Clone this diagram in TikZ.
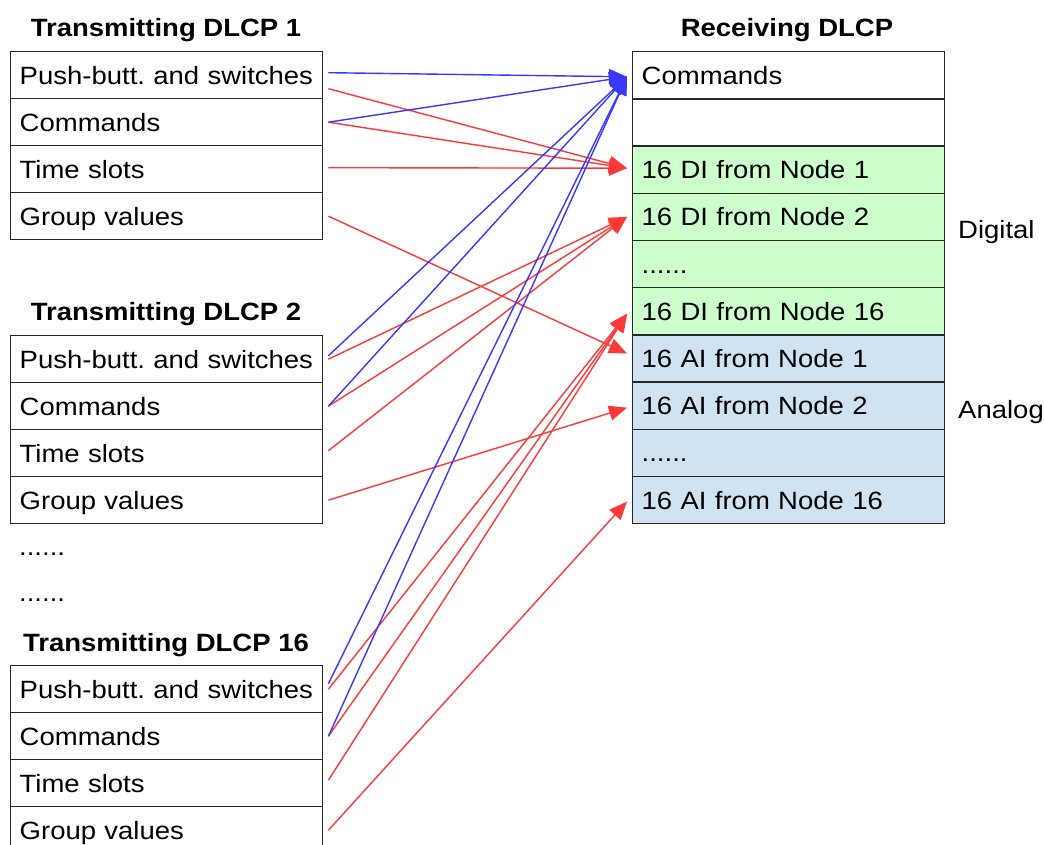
\documentclass[tikz,border=0pt]{standalone}
\usepackage{fontspec}
\setmainfont[FakeStretch=1.1]{Liberation Sans}
\usetikzlibrary{arrows.meta}
\frenchspacing
\definecolor{cellgreen}{RGB}{204,255,204}
\definecolor{cellblue}{RGB}{207,227,242}
\definecolor{arrred}{RGB}{255,56,56}
\definecolor{arrblue}{RGB}{56,56,255}
\definecolor{border}{RGB}{40,40,40}
\begin{document}
\begin{tikzpicture}[x=1pt,y=-1pt,
  txt/.style={font=\fontsize{25}{30}\selectfont\frenchspacing},
  cell/.style={txt,draw=border,line width=1.4pt,fill=white,anchor=north west,
    minimum height=47pt,inner xsep=9pt,inner ysep=0pt,text width=294pt,align=left,
    text height=18pt,text depth=0pt},
  rcell/.style={cell,minimum height=47.2pt},
  gcell/.style={rcell,fill=cellgreen},
  bcell/.style={rcell,fill=cellblue},
  title/.style={txt,font=\fontsize{25}{30}\selectfont\bfseries,inner sep=0pt,text height=18pt,text depth=0pt},
  lbl/.style={txt,inner sep=0pt,text height=18pt,text depth=0pt,anchor=west},
  dots/.style={txt,inner sep=0pt,anchor=base west},
  bluearr/.style={draw=arrblue,line width=1.4pt,-{Triangle[length=18pt,width=15pt]},fill=arrblue},
  redarr/.style={draw=arrred,line width=1.4pt,-{Triangle[length=18pt,width=15pt]},fill=arrred}
]
\useasboundingbox (0,0) rectangle (1045,845);

% titles
\node[title] (t1) at (166,28) {Transmitting DLCP 1};
\node[title] (t2) at (166,311) {Transmitting DLCP 2};
\node[title] (t3) at (166,642) {Transmitting DLCP 16};
\node[title] (tr) at (787,28) {Receiving DLCP};

% transmitting DLCP 1
\node[cell] (a1p) at (10,51) {\mbox{Push-butt. and switches}};
\node[cell] (a1c) at (10,98) {Commands};
\node[cell] (a1t) at (10,145) {Time slots};
\node[cell] (a1g) at (10,192) {Group values};

% transmitting DLCP 2
\node[cell] (a2p) at (10,335) {\mbox{Push-butt. and switches}};
\node[cell] (a2c) at (10,382) {Commands};
\node[cell] (a2t) at (10,429) {Time slots};
\node[cell] (a2g) at (10,476) {Group values};

\node[dots] (ld1) at (19,555) {......};
\node[dots] (ld2) at (19,601) {......};

% transmitting DLCP 16
\node[cell] (a3p) at (10,665) {\mbox{Push-butt. and switches}};
\node[cell] (a3c) at (10,712) {Commands};
\node[cell] (a3t) at (10,759) {Time slots};
\node[cell] (a3g) at (10,806) {Group values};

% receiving DLCP
\node[rcell] (rc) at (632,51) {Commands};
\node[rcell] (rb) at (632,98.2) {};
\node[gcell] (d1) at (632,145.4) {16 DI from Node 1};
\node[gcell] (d2) at (632,192.6) {16 DI from Node 2};
\node[gcell] (dd) at (632,239.8) {......};
\node[gcell] (d16) at (632,287) {16 DI from Node 16};
\node[bcell] (an1) at (632,334.2) {16 AI from Node 1};
\node[bcell] (an2) at (632,381.4) {16 AI from Node 2};
\node[bcell] (ad) at (632,428.6) {......};
\node[bcell] (an16) at (632,475.8) {16 AI from Node 16};

\node[lbl] (dig) at (958,230) {Digital};
\node[lbl] (ana) at (958,409) {Analog};

% arrow targets
\coordinate (btip) at ([xshift=-5pt,yshift=-1.5pt]rc.west);
\coordinate (d1tip) at ([xshift=-5pt,yshift=1.5pt]d1.west);
\coordinate (d2tip) at ([xshift=-5pt]d2.west);
\coordinate (d16tip) at ([xshift=-5pt,yshift=-2.5pt]d16.west);
\coordinate (an1tip) at ([xshift=-5pt,yshift=5pt]an1.west);
\coordinate (an2tip) at ([xshift=-5pt,yshift=-2pt]an2.west);
\coordinate (an16tip) at ([xshift=-5pt,yshift=-1.5pt]an16.west);

% red arrows
\draw[redarr] ([xshift=5pt,yshift=-13.5pt]a1p.east) -- (d1tip);
\draw[redarr] ([xshift=5pt]a1c.east) -- (d1tip);
\draw[redarr] ([xshift=5pt,yshift=1.5pt]a1t.east) -- (d1tip);
\draw[redarr] ([xshift=5pt]a1g.east) -- (an1tip);
\draw[redarr] ([xshift=5pt]a2p.east) -- (d2tip);
\draw[redarr] ([xshift=5pt]a2c.east) -- (d2tip);
\draw[redarr] ([xshift=5pt,yshift=2.5pt]a2t.east) -- (d2tip);
\draw[redarr] ([xshift=5pt]a2g.east) -- (an2tip);
\draw[redarr] ([xshift=5pt]a3p.east) -- (d16tip);
\draw[redarr] ([xshift=5pt]a3c.east) -- (d16tip);
\draw[redarr] ([xshift=5pt,yshift=3pt]a3t.east) -- (d16tip);
\draw[redarr] ([xshift=5pt]a3g.east) -- (an16tip);

% blue arrows
\draw[bluearr] ([xshift=5pt,yshift=2.5pt]a1p.east) -- (btip);
\draw[bluearr] ([xshift=5pt]a1c.east) -- (btip);
\draw[bluearr] ([xshift=5pt,yshift=3.5pt]a2p.east) -- (btip);
\draw[bluearr] ([xshift=5pt]a2c.east) -- (btip);
\draw[bluearr] ([xshift=5pt,yshift=5.5pt]a3p.east) -- (btip);
\draw[bluearr] ([xshift=5pt]a3c.east) -- (btip);
\end{tikzpicture}
\end{document}
